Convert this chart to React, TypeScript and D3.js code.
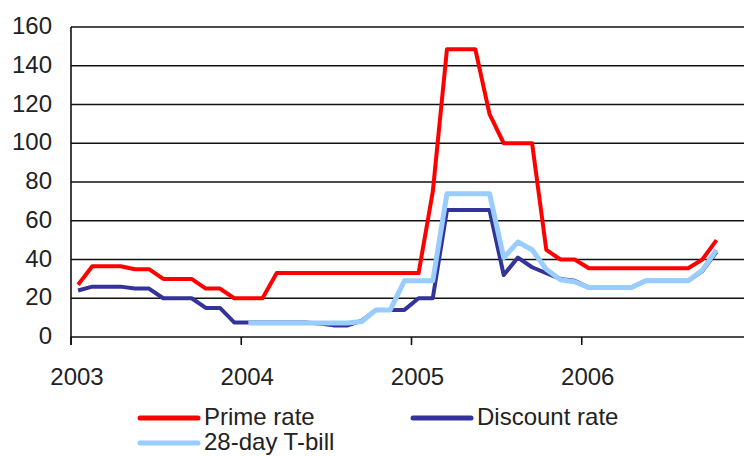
import React, { useEffect, useRef } from 'react';
import * as d3 from 'd3';

// monthly observations, Jan 2003 .. Oct 2006
const months = d3.timeMonths(new Date(2003, 0, 1), new Date(2007, 0, 1));
const years = [2003, 2004, 2005, 2006];
const yTicks = [0, 20, 40, 60, 80, 100, 120, 140, 160];

const primeRate = [
  27, 36.5, 36.5, 36.5, 35, 35, 30, 30, 30, 25, 25, 20,
  20, 20, 33, 33, 33, 33, 33, 33, 33, 33, 33, 33,
  33, 75, 148.5, 148.5, 148.5, 115, 100, 100, 100, 45, 40, 40,
  35.5, 35.5, 35.5, 35.5, 35.5, 35.5, 35.5, 35.5, 40, 50,
];

const discountRate = [
  24, 26, 26, 26, 25, 25, 20, 20, 20, 15, 15, 7.5,
  7.5, 7.5, 7.5, 7.5, 7.5, 7, 6, 6, 8.5, 14, 14, 14,
  20, 20, 65.5, 65.5, 65.5, 65.5, 32, 41, 36, 33, 30, 29,
  25.5, 25.5, 25.5, 25.5, 29, 29, 29, 29, 34, 44,
];

// T-bill series starts in Jan 2004
const tBill = [
  null, null, null, null, null, null, null, null, null, null, null, null,
  7.2, 7.2, 7.2, 7.2, 7.2, 7.2, 7.2, 7.2, 8, 14, 14, 29,
  29, 29, 74, 74, 74, 74, 41, 49, 45, 35, 29.5, 28.5,
  25.5, 25.5, 25.5, 25.5, 29, 29, 29, 29, 34.5, 45,
];

const series = [
  { name: 'Prime rate', values: primeRate, color: '#ff0000', width: 4 },
  { name: 'Discount rate', values: discountRate, color: '#333399', width: 4 },
  { name: '28-day T-bill', values: tBill, color: '#99ccff', width: 5 },
];

const App: React.FC = () => {
  const svgRef = useRef<SVGSVGElement | null>(null);

  useEffect(() => {
    if (!svgRef.current) return;
    const svg = d3.select(svgRef.current);
    svg.selectAll('*').remove();

    const width = 744;
    const left = 71;
    const font = 'Liberation Sans, Arial, sans-serif';

    const x = d3.scaleBand<string>()
      .domain(months.map(m => d3.timeFormat('%Y-%m')(m)))
      .range([left, 752]);
    const y = d3.scaleLinear().domain([0, 160]).range([337, 27]);

    const key = (i: number) => x.domain()[i];
    const cx = (i: number) => (x(key(i)) || 0) + x.bandwidth() / 2;

    // grid
    svg.append('g')
      .selectAll('line')
      .data(yTicks)
      .join('line')
      .attr('x1', left)
      .attr('x2', width)
      .attr('y1', d => y(d))
      .attr('y2', d => y(d))
      .attr('stroke', '#111')
      .attr('stroke-width', 1.6);

    svg.append('line')
      .attr('x1', left).attr('x2', left)
      .attr('y1', y(160)).attr('y2', y(0) + 8)
      .attr('stroke', '#111').attr('stroke-width', 1.6);

    svg.append('g')
      .selectAll('text')
      .data(yTicks)
      .join('text')
      .attr('x', 52)
      .attr('y', d => y(d) + 7)
      .attr('text-anchor', 'end')
      .attr('font-family', font)
      .attr('font-size', 24)
      .attr('fill', '#222')
      .text(d => d);

    const yearX = (yr: number) => x(`${yr}-01`) || 0;
    svg.append('g')
      .selectAll('line')
      .data(years)
      .join('line')
      .attr('x1', d => yearX(d))
      .attr('x2', d => yearX(d))
      .attr('y1', y(0))
      .attr('y2', y(0) + 8)
      .attr('stroke', '#111')
      .attr('stroke-width', 1.6);

    svg.append('g')
      .selectAll('text')
      .data(years)
      .join('text')
      .attr('x', d => yearX(d) + 6)
      .attr('y', 385)
      .attr('text-anchor', 'middle')
      .attr('font-family', font)
      .attr('font-size', 24)
      .attr('fill', '#222')
      .text(d => d);

    // lines: discount, t-bill, then prime on top
    const line = d3.line<number | null>()
      .defined(d => d !== null)
      .x((_, i) => cx(i))
      .y(d => y(d as number));

    [series[1], series[2], series[0]].forEach(s => {
      svg.append('path')
        .datum(s.values)
        .attr('d', line)
        .attr('fill', 'none')
        .attr('stroke', s.color)
        .attr('stroke-width', s.width)
        .attr('stroke-linejoin', 'round');
    });

    // legend
    const legendPos = [
      { x: 140, y: 418 },
      { x: 413, y: 418 },
      { x: 140, y: 443 },
    ];
    series.forEach((s, i) => {
      const p = legendPos[i];
      svg.append('line')
        .attr('x1', p.x).attr('x2', p.x + 58)
        .attr('y1', p.y).attr('y2', p.y)
        .attr('stroke', s.color)
        .attr('stroke-width', 5)
        .attr('stroke-linecap', 'round');
      svg.append('text')
        .attr('x', p.x + 64)
        .attr('y', p.y + 7)
        .attr('font-family', font)
        .attr('font-size', 24)
        .attr('fill', '#222')
        .text(s.name);
    });
  }, []);

  return (
    <svg
      ref={svgRef}
      width={744}
      height={456}
      style={{ position: 'absolute', left: 0, top: 0, background: '#fff' }}
    />
  );
};

export default App;
